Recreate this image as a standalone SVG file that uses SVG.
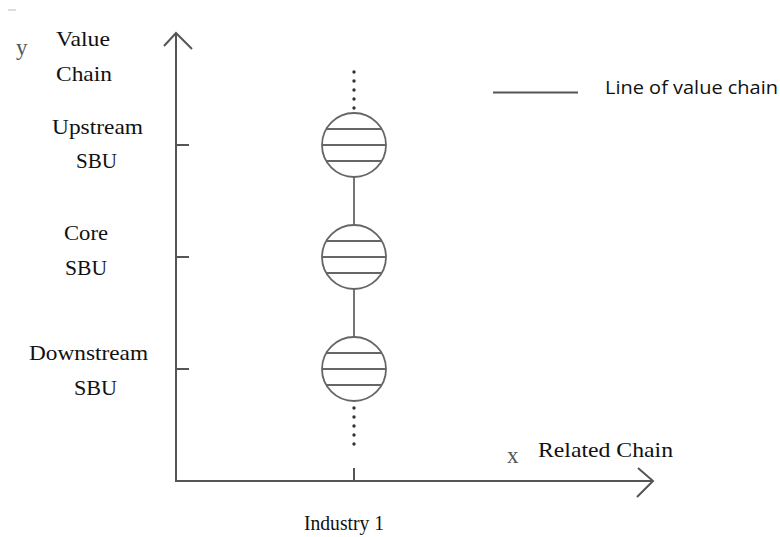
<svg xmlns="http://www.w3.org/2000/svg" width="780" height="537" viewBox="0 0 780 537">
<style>
.ax{stroke:#555;stroke-width:2;fill:none}
.nd{stroke:#666;stroke-width:1.8;fill:#fff}
.hl{stroke:#666;stroke-width:1.8}
.lb{font-family:"Liberation Serif","Times New Roman",serif;font-size:22px;fill:#111}
.var{font-family:"Liberation Serif","Times New Roman",serif;font-size:23px;fill:#555}
.lg{font-family:"Open Sans","Liberation Sans",sans-serif;font-size:18px;fill:#111}
.dot{fill:#333}
</style>
<defs>
<g id="ball">
<circle cx="0" cy="0" r="32" class="nd"/>
<line x1="-27.7" y1="-16" x2="27.7" y2="-16" class="hl"/>
<line x1="-32" y1="0" x2="32" y2="0" class="hl"/>
<line x1="-27.7" y1="16" x2="27.7" y2="16" class="hl"/>
</g>
</defs>
<rect width="780" height="537" fill="#fff"/>
<line x1="8" y1="10" x2="16" y2="10" stroke="#bbb" stroke-width="1"/>
<g id="axes">
<line x1="176" y1="34" x2="176" y2="481" class="ax"/>
<polyline points="164,46 176,33 192,49" class="ax"/>
<line x1="175" y1="481" x2="652" y2="481" class="ax"/>
<polyline points="638,468 653,481 637,497" class="ax"/>
<line x1="176" y1="145" x2="189" y2="145" class="ax"/>
<line x1="176" y1="257" x2="189" y2="257" class="ax"/>
<line x1="176" y1="369" x2="189" y2="369" class="ax"/>
<line x1="354" y1="468" x2="354" y2="481" class="ax"/>
</g>
<g id="connectors">
<line x1="354" y1="177" x2="354" y2="225" class="hl"/>
<line x1="354" y1="289" x2="354" y2="337" class="hl"/>
<g class="dot">
<circle cx="354" cy="72" r="1.7"/><circle cx="354" cy="81" r="1.7"/><circle cx="354" cy="90" r="1.7"/><circle cx="354" cy="99" r="1.7"/><circle cx="354" cy="108" r="1.7"/>
<circle cx="354" cy="408" r="1.7"/><circle cx="354" cy="417" r="1.7"/><circle cx="354" cy="426" r="1.7"/><circle cx="354" cy="435" r="1.7"/><circle cx="354" cy="444" r="1.7"/>
</g>
</g>
<g id="upstream"><use href="#ball" x="354" y="145"/></g>
<g id="core"><use href="#ball" x="354" y="257"/></g>
<g id="downstream"><use href="#ball" x="354" y="369"/></g>
<g id="labels">
<text class="var" x="16" y="55">y</text>
<text class="lb" x="56" y="46" textLength="54" lengthAdjust="spacingAndGlyphs">Value</text>
<text class="lb" x="56" y="81" textLength="56" lengthAdjust="spacingAndGlyphs">Chain</text>
<text class="lb" x="52" y="134" textLength="91" lengthAdjust="spacingAndGlyphs">Upstream</text>
<text class="lb" x="76" y="168" textLength="41" lengthAdjust="spacingAndGlyphs">SBU</text>
<text class="lb" x="64" y="240" textLength="44" lengthAdjust="spacingAndGlyphs">Core</text>
<text class="lb" x="65" y="275" textLength="42" lengthAdjust="spacingAndGlyphs">SBU</text>
<text class="lb" x="29" y="360" textLength="119" lengthAdjust="spacingAndGlyphs">Downstream</text>
<text class="lb" x="74" y="395" textLength="43" lengthAdjust="spacingAndGlyphs">SBU</text>
<text class="var" x="507" y="463">x</text>
<text class="lb" x="538" y="457" textLength="135" lengthAdjust="spacingAndGlyphs">Related Chain</text>
<text class="lb" x="304" y="530" textLength="80" lengthAdjust="spacingAndGlyphs">Industry 1</text>
</g>
<g id="legend">
<line x1="493" y1="92.5" x2="578" y2="92.5" stroke="#555" stroke-width="2"/>
<text class="lg" x="605" y="94" textLength="173" lengthAdjust="spacingAndGlyphs">Line of value chain</text>
</g>
</svg>
